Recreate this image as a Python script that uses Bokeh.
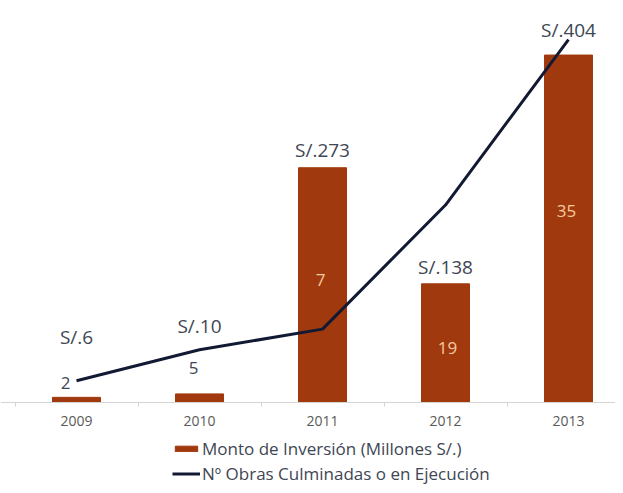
from bokeh.plotting import figure
from bokeh.models import (ColumnDataSource, Range1d, LinearAxis, FixedTicker,
                          Legend, LegendItem)
from bokeh.core.properties import value
from bokeh.embed import file_html
from bokeh.resources import INLINE

# ---- data ----
years = ["2009", "2010", "2011", "2012", "2013"]
monto = [6, 10, 273, 138, 404]          # Monto de Inversión (Millones S/.)
obras = [2, 5, 7, 19, 35]               # Nº Obras Culminadas o en Ejecución
monto_labels = ["S/.6", "S/.10", "S/.273", "S/.138", "S/.404"]
obras_labels = ["2", "5", "7", "19", "35"]

# ---- styling ----
FONT = "Open Sans"
BAR = "#a0390d"
LINE = "#121a33"
TXT = "#404654"
IN_BAR = "#f7c9a0"
W, H = 615, 485
BASE = 402          # pixel row of the baseline
BAR_PX = 0.86       # px per million S/.
OBR_PX = 10.34      # px per obra

xs = list(range(len(years)))

p = figure(width=W, height=H, output_backend="svg", toolbar_location=None,
           x_range=Range1d(-76 / 123, -76 / 123 + W / 123),
           y_range=Range1d(-(H - BASE) / BAR_PX, BASE / BAR_PX),
           x_axis_location=None, y_axis_location=None,
           min_border_left=0, min_border_right=0, min_border_top=0,
           min_border_bottom=0)
p.extra_y_ranges = {"obras": Range1d(-(H - BASE + 1) / OBR_PX, (BASE - 1) / OBR_PX)}
p.outline_line_color = None
p.xgrid.visible = False
p.ygrid.visible = False
p.background_fill_color = "white"
p.border_fill_color = "white"

# x axis fixed at zero
ax = LinearAxis(fixed_location=0)
ax.ticker = FixedTicker(ticks=xs, minor_ticks=[i - 0.5 for i in range(len(years) + 1)])
ax.major_label_overrides = {i: y for i, y in enumerate(years)}
ax.axis_line_color = "#d4d4d4"
ax.axis_line_width = 1
ax.major_tick_line_color = None
ax.minor_tick_line_color = "#d4d4d4"
ax.minor_tick_out = 4
ax.minor_tick_in = 0
ax.major_label_standoff = 7
ax.major_label_text_font = FONT
ax.major_label_text_font_size = "14px"
ax.major_label_text_color = "#595959"
p.add_layout(ax, "below")

src = ColumnDataSource(dict(x=xs, monto=monto, obras=obras,
                            half=[m / 2 for m in monto],
                            ml=monto_labels, ol=obras_labels,
                            ml_dy=[-60, -68, -18, -17, -25],
                            ol_dx=[-11, -6, -2, 2, -2],
                            ol_dy=[-17, -30, -5, 5, -18],
                            ol_col=[TXT, TXT, IN_BAR, IN_BAR, IN_BAR]))

bars = p.vbar(x="x", top="monto", width=0.39, source=src, color=BAR)
ln = p.line(x="x", y="obras", source=src, y_range_name="obras",
            line_color=LINE, line_width=3)

p.text(x="x", y="monto", text="ml", source=src, y_offset="ml_dy",
       text_align="center", text_baseline="middle",
       text_font=value(FONT), text_font_size="19px", text_color=TXT)
p.text(x="x", y="half", text="ol", source=src, x_offset="ol_dx", y_offset="ol_dy",
       text_align="center", text_baseline="middle",
       text_font=value(FONT), text_font_size="17px", text_color="ol_col")

legend = Legend(items=[
    LegendItem(label="Monto de Inversión (Millones S/.)", renderers=[bars]),
    LegendItem(label="Nº Obras Culminadas o en Ejecución", renderers=[ln]),
], location=(172, 0), orientation="vertical")
legend.glyph_width = 28
legend.glyph_height = 7
legend.label_height = 18
legend.spacing = 2
legend.padding = 0
legend.margin = 0
legend.label_standoff = 2
legend.label_text_font = FONT
legend.label_text_font_size = "17px"
legend.label_text_color = TXT
legend.background_fill_alpha = 0
legend.border_line_color = None
p.add_layout(legend, "center")

open("out.html", "w").write(file_html(p, INLINE))
